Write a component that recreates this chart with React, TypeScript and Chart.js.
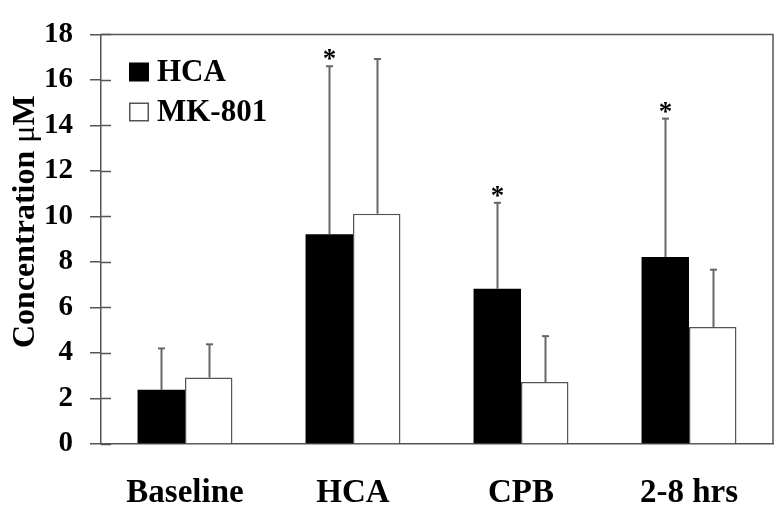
import React, { useEffect, useRef } from 'react';
import { Chart, registerables } from 'chart.js';

Chart.register(...registerables);

const categories = ['Baseline', 'HCA', 'CPB', '2-8 hrs'];
const seriesLabels = ['HCA', 'MK-801'];
const hcaMeans = [2.38, 9.22, 6.82, 8.22];
const hcaErrTops = [4.2, 16.6, 10.6, 14.3];
const mkMeans = [2.92, 10.12, 2.72, 5.14];
const mkErrTops = [4.38, 16.92, 4.74, 7.66];
const hcaSignificant = [false, true, true, true];
const yTicks = [0, 2, 4, 6, 8, 10, 12, 14, 16, 18];
const yTitle = 'Concentration ';
const yUnit = 'μM';

const SERIF = "'Liberation Serif', 'Times New Roman', serif";
const LINE = '#555555';

const overlay = {
  id: 'overlay',
  afterDatasetsDraw(chart: any) {
    const ctx = chart.ctx;
    const { left, right, top, bottom } = chart.chartArea;
    const ys = chart.scales.y;
    ctx.save();
    // inward ticks
    ctx.strokeStyle = LINE;
    ctx.lineWidth = 1.5;
    yTicks.forEach((v) => {
      const py = Math.round(ys.getPixelForValue(v)) + 0.5;
      ctx.beginPath();
      ctx.moveTo(left, py);
      ctx.lineTo(left + 10, py);
      ctx.stroke();
    });
    // box top & right
    ctx.beginPath();
    ctx.moveTo(left, top);
    ctx.lineTo(right, top);
    ctx.lineTo(right, bottom);
    ctx.stroke();
    // error bars
    const errs = [hcaErrTops, mkErrTops];
    chart.data.datasets.forEach((ds: any, di: number) => {
      const meta = chart.getDatasetMeta(di);
      meta.data.forEach((bar: any, i: number) => {
        const x = Math.round(bar.x) + 0.5;
        const y0 = bar.y;
        const y1 = ys.getPixelForValue(errs[di][i]);
        ctx.strokeStyle = '#666666';
        ctx.lineWidth = 2;
        ctx.beginPath();
        ctx.moveTo(x, y0);
        ctx.lineTo(x, y1);
        ctx.stroke();
        ctx.beginPath();
        ctx.moveTo(x - 3.5, y1);
        ctx.lineTo(x + 3.5, y1);
        ctx.stroke();
        if (di === 0 && hcaSignificant[i]) {
          ctx.fillStyle = '#000';
          ctx.font = `bold 27px ${SERIF}`;
          ctx.textAlign = 'center';
          ctx.textBaseline = 'alphabetic';
          ctx.fillText('*', x, y1 + 1);
        }
      });
    });
    ctx.restore();
  },
  afterDraw(chart: any) {
    const ctx = chart.ctx;
    ctx.save();
    // legend
    const legendY = [72, 112];
    ctx.lineWidth = 1.5;
    seriesLabels.forEach((lab, i) => {
      const cy = legendY[i];
      if (i === 0) {
        ctx.fillStyle = '#000';
        ctx.fillRect(129, cy - 9.5, 20, 19);
      } else {
        ctx.fillStyle = '#fff';
        ctx.fillRect(129, cy - 9.5, 20, 19);
        ctx.strokeStyle = LINE;
        ctx.strokeRect(129.75, cy - 8.75, 18.5, 17.5);
      }
      ctx.fillStyle = '#000';
      ctx.font = `bold 31px ${SERIF}`;
      ctx.textAlign = 'left';
      ctx.textBaseline = 'middle';
      ctx.fillText(lab, 157, cy + 1);
    });
    // y title
    ctx.translate(34, 348);
    ctx.rotate(-Math.PI / 2);
    ctx.textAlign = 'left';
    ctx.textBaseline = 'alphabetic';
    ctx.font = `bold 32px ${SERIF}`;
    ctx.fillText(yTitle, 0, 0);
    const w = ctx.measureText(yTitle).width;
    ctx.font = `32px ${SERIF}`;
    ctx.fillText(yUnit.charAt(0), w, 0);
    const w2 = ctx.measureText(yUnit.charAt(0)).width;
    ctx.font = `bold 32px ${SERIF}`;
    ctx.fillText(yUnit.slice(1), w + w2, 0);
    ctx.restore();
  },
};

export default function App() {
  const ref = useRef<HTMLCanvasElement>(null);
  useEffect(() => {
    if (!ref.current) return;
    const chart = new Chart(ref.current, {
      type: 'bar',
      data: {
        labels: categories,
        datasets: [
          {
            label: seriesLabels[0],
            data: hcaMeans,
            backgroundColor: '#000000',
            borderColor: '#000000',
            borderWidth: 0,
          },
          {
            label: seriesLabels[1],
            data: mkMeans,
            backgroundColor: '#ffffff',
            borderColor: LINE,
            borderWidth: 1.5,
          },
        ],
      },
      options: {
        animation: false,
        responsive: false,
        devicePixelRatio: 1,
        layout: { padding: { left: 0, right: 9, top: 19, bottom: 0 } },
        datasets: { bar: { categoryPercentage: 0.565, barPercentage: 1 } },
        plugins: { legend: { display: false }, tooltip: { enabled: false } },
        scales: {
          x: {
            grid: { display: false },
            border: { display: true, color: LINE, width: 1.5 },
            ticks: {
              color: '#000',
              font: { family: SERIF, size: 33, weight: 'bold' },
              padding: 22,
              maxRotation: 0,
            },
            afterFit: (s: any) => {
              s.height = 68;
            },
          },
          y: {
            min: 0,
            max: 18,
            grid: {
              display: true,
              drawOnChartArea: false,
              drawTicks: true,
              tickLength: 11,
              color: LINE,
              lineWidth: 1.5,
            },
            border: { display: true, color: LINE, width: 1.5 },
            ticks: {
              stepSize: 2,
              color: '#000',
              font: { family: SERIF, size: 29, weight: 'bold' },
              padding: 17,
            },
            afterFit: (s: any) => {
              s.width = 101;
            },
          },
        },
      },
      plugins: [overlay],
    });
    return () => chart.destroy();
  }, []);
  return (
    <div style={{ position: 'fixed', left: 0, top: 0, width: 782, height: 512, background: '#fff' }}>
      <canvas ref={ref} width={782} height={512} style={{ display: 'block' }} />
    </div>
  );
}
